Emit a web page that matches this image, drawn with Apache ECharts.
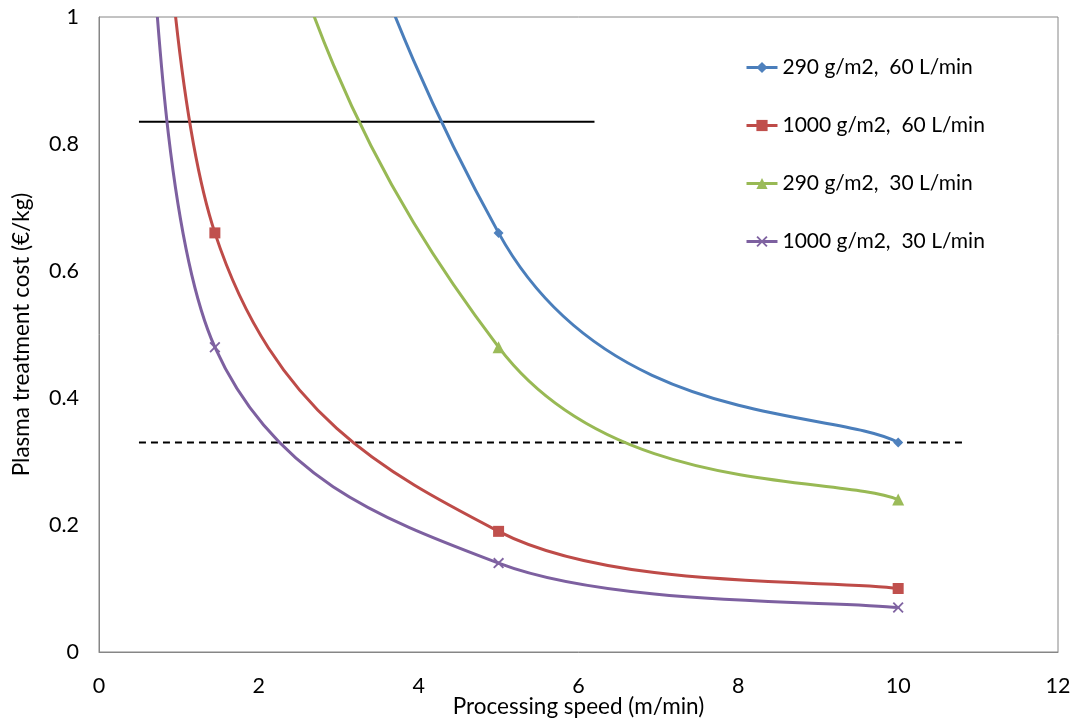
<!DOCTYPE html>
<html><head><meta charset="utf-8">
<script src="https://cdn.jsdelivr.net/npm/echarts@6/dist/echarts.min.js"></script>
<style>html,body{margin:0;padding:0;background:#fff}#c{width:1070px;height:719px}</style>
</head><body><div id="c"></div>
<script>
// Data (x = processing speed m/min). Points with cost > 1 lie above the y-axis range and are clipped.
const speeds = [0.5, 1.45, 5, 10];
const s290_60 = [6.6, 2.28, 0.66, 0.33];
const s1000_60 = [1.91, 0.66, 0.19, 0.10];
const s290_30 = [4.8, 1.66, 0.48, 0.24];
const s1000_30 = [1.4, 0.48, 0.14, 0.07];
const names = ['290 g/m2,  60 L/min', '1000 g/m2,  60 L/min', '290 g/m2,  30 L/min', '1000 g/m2,  30 L/min'];
const upperLimitX = [0.5, 6.2], upperLimitY = 0.835;
const lowerLimitX = [0.5, 10.8], lowerLimitY = 0.33;

const FONT = 'Lato';
const lineColors = ['#4A7EBB', '#BE4B48', '#98B954', '#7D60A0'];
const markColors = ['#4F81BD', '#C0504D', '#9BBB59', '#8064A2'];
const cross = 'path://M0,1.2 L1.2,0 L5,3.8 L8.8,0 L10,1.2 L6.2,5 L10,8.8 L8.8,10 L5,6.2 L1.2,10 L0,8.8 L3.8,5 Z';
const symbols = ['diamond', 'rect', 'triangle', cross];
const symSizes = [10, 11, 12, 11];
const allVals = [s290_60, s1000_60, s290_30, s1000_30];
const pairs = v => speeds.map((x, i) => [x, v[i]]);

// Spreadsheet-style smoothing (cubic Bezier through points, control arms 1/6 of neighbour span, limited to half segment)
function dist(a, b) { return Math.hypot(a[0] - b[0], a[1] - b[1]); }
function smoothCurves(pts, color) {
  const children = [];
  for (let i = 0; i < pts.length - 1; i++) {
    const p1 = pts[i], p2 = pts[i + 1];
    const p0 = i > 0 ? pts[i - 1] : p1;
    const p3 = i + 2 < pts.length ? pts[i + 2] : p2;
    const d12 = dist(p1, p2), d02 = dist(p0, p2), d13 = dist(p1, p3);
    const f1 = (d02 / 6 < d12 / 2) ? 1 / 6 : d12 / (2 * d02);
    const f2 = (d13 / 6 < d12 / 2) ? 1 / 6 : d12 / (2 * d13);
    children.push({
      type: 'bezierCurve',
      shape: {
        x1: p1[0], y1: p1[1], x2: p2[0], y2: p2[1],
        cpx1: p1[0] + f1 * (p2[0] - p0[0]), cpy1: p1[1] + f1 * (p2[1] - p0[1]),
        cpx2: p2[0] - f2 * (p3[0] - p1[0]), cpy2: p2[1] - f2 * (p3[1] - p1[1])
      },
      style: {fill: null, stroke: color, lineWidth: 3, lineJoin: 'round', lineCap: 'round'}
    });
  }
  return {type: 'group', children};
}
function curveSeries(idx) {
  return {
    type: 'custom', data: pairs(allVals[idx]), clip: true, silent: true, z: 3,
    encode: {x: 0, y: 1},
    renderItem(params, api) {
      if (params.dataIndexInside !== 0) return null;
      const pts = [];
      for (let i = 0; i < params.dataInsideLength; i++) {
        pts.push(api.coord([api.value(0, i), api.value(1, i)]));
      }
      return smoothCurves(pts, lineColors[idx]);
    }
  };
}
function markerSeries(idx) {
  return {
    name: names[idx], type: 'line', data: pairs(allVals[idx]), clip: true,
    symbol: symbols[idx], symbolSize: symSizes[idx], showAllSymbol: true,
    lineStyle: {color: lineColors[idx], width: 3, opacity: 0},
    itemStyle: {color: markColors[idx]},
    emphasis: {disabled: true}, z: 4
  };
}
const series = [];
for (let i = 0; i < 4; i++) series.push(curveSeries(i));
for (let i = 0; i < 4; i++) series.push(markerSeries(i));
series.push(
  {type: 'line', data: upperLimitX.map(x => [x, upperLimitY]), symbol: 'none', silent: true,
   lineStyle: {color: '#000', width: 2}, z: 2},
  {type: 'line', data: lowerLimitX.map(x => [x, lowerLimitY]), symbol: 'none', silent: true,
   lineStyle: {color: '#000', width: 2, type: [7, 5]}, z: 2}
);

const chart = echarts.init(document.getElementById('c'), null, {renderer: 'canvas'});
chart.setOption({
  animation: false,
  backgroundColor: '#fff',
  grid: {left: 99, right: 12, top: 17, bottom: 67, show: true, borderColor: '#868686', borderWidth: 1,
         containLabel: false, outerBoundsMode: 'none'},
  legend: {
    data: names.map((n, i) => ({name: n, lineStyle: {color: lineColors[i], width: 3, opacity: 1}})),
    orient: 'vertical', left: 740, top: 52,
    itemWidth: 31, itemHeight: 14, itemGap: 37,
    textStyle: {fontFamily: FONT, fontSize: 21, color: '#000'}
  },
  xAxis: {
    type: 'value', min: 0, max: 12, interval: 2,
    name: 'Processing speed (m/min)', nameLocation: 'middle', nameGap: 43, nameMoveOverlap: false,
    nameTextStyle: {fontFamily: FONT, fontSize: 22.5, color: '#000'},
    axisLine: {lineStyle: {color: '#868686', width: 1}}, axisTick: {show: false},
    axisLabel: {fontFamily: FONT, fontSize: 21.5, color: '#000', margin: 23},
    splitLine: {show: false}
  },
  yAxis: {
    type: 'value', min: 0, max: 1, interval: 0.2,
    name: 'Plasma treatment cost (€/kg)', nameLocation: 'middle', nameGap: 66, nameMoveOverlap: false,
    nameTextStyle: {fontFamily: FONT, fontSize: 22.5, color: '#000'},
    axisLine: {show: true, lineStyle: {color: '#868686', width: 1}}, axisTick: {show: false},
    axisLabel: {fontFamily: FONT, fontSize: 21.5, color: '#000', margin: 20},
    splitLine: {show: false}
  },
  series
});
</script></body></html>
